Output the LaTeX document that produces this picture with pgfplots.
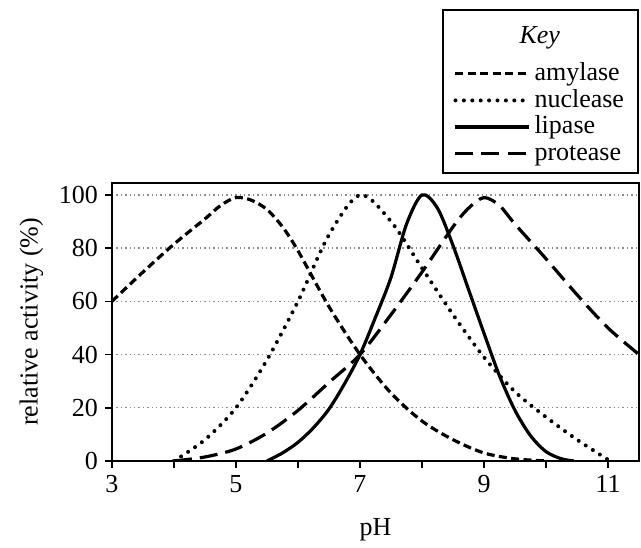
\documentclass[border=0pt]{standalone}
\usepackage{fontspec}
\setmainfont{Liberation Serif}
\usepackage{pgfplots}
\pgfplotsset{compat=1.18}

\begin{document}
\begin{tikzpicture}
\begin{axis}[
    scale only axis,
    width=263.5pt, height=139pt,
    xmin=3, xmax=11.5,
    ymin=0, ymax=104.5,
    xtick={3,4,5,6,7,8,9,10,11},
    xticklabels={3,,5,,7,,9,,11},
    ytick={0,20,40,60,80,100},
    xtick pos=left, ytick pos=left,
    tick align=outside,
    major tick length=3.5pt,
    every tick/.style={black, line width=0.8pt},
    axis line style={line width=1pt},
    ymajorgrids,
    grid style={gray!90, line width=0.7pt, dash pattern=on 0.7pt off 1.5pt},
    /pgf/number format/assume math mode=true,
    tick label style={font=\fontsize{13}{15}\selectfont},
    label style={font=\fontsize{13}{15}\selectfont},
    xlabel={pH},
    ylabel={relative activity (\%)},
    xlabel style={yshift=-6pt},
    ylabel style={yshift=1pt},
    legend style={at={(rel axis cs:1,1)}, anchor=south east, yshift=4.5pt,
        draw=black, line width=1pt, inner xsep=5pt, inner ysep=3pt,
        font=\fontsize{13}{15}\selectfont,
        nodes={inner ysep=1pt, text height=9pt, text depth=2.3pt},
        /tikz/every even column/.append style={column sep=5pt}},
    legend cell align=left,
    legend image code/.code={\draw[#1] (0pt,0pt) -- (36.5pt,0pt);},
]
\addlegendimage{empty legend}
\addlegendentry[text height=13pt, text depth=7.5pt]{\hspace*{-7.5pt}\textit{Key}}

% amylase
\addplot[black, line width=1.6pt, dash pattern=on 4pt off 2.2pt, smooth] coordinates {
(3,60) (3.5,71) (4,81.5) (4.5,91) (4.75,96) (5,99) (5.25,98) (5.5,94.5)
(5.75,88) (6,79) (6.5,58) (7,40) (7.5,25.5) (8,15) (8.5,8) (9,3) (9.5,0.8) (10,0)};
\addlegendentry{amylase}

% nuclease
\addplot[black, line width=2pt, line cap=round, dash pattern=on 0pt off 4.2pt, smooth] coordinates {
(4,0) (4.5,8) (5,20) (5.5,38) (6,60) (6.5,85) (7,100) (7.5,90) (8,72.5)
(8.5,55) (9,39) (9.5,26) (10,16.5) (10.5,8) (11,0.5)};
\addlegendentry{nuclease}

% lipase
\addplot[black, line width=1.6pt, smooth] coordinates {
(5.5,0) (5.75,3) (6,7) (6.25,12.5) (6.5,19.5) (6.75,29) (7,40) (7.25,54)
(7.5,69) (7.75,89) (8,100) (8.25,95) (8.5,81) (8.75,64.5) (9,48) (9.25,32)
(9.5,19) (9.75,9.5) (10,3.5) (10.25,0.8) (10.45,0)};
\addlegendentry{lipase}

% protease
\addplot[black, line width=1.6pt, dash pattern=on 9pt off 4pt, smooth] coordinates {
(4,0) (4.5,1.5) (5,4.5) (5.5,10.5) (6,19) (6.5,29.5) (7,40) (7.5,55) (8,71)
(8.5,88) (8.75,95) (9,99) (9.25,96) (9.5,89) (10,76) (10.5,62.5) (11,50) (11.5,40)};
\addlegendentry{protease}

\coordinate (bbsw) at (rel axis cs:-0.2125,-0.2986);
\coordinate (bbne) at (rel axis cs:1.0038,1.658);
\end{axis}
\path (bbsw) rectangle (bbne);
\end{tikzpicture}
\end{document}
